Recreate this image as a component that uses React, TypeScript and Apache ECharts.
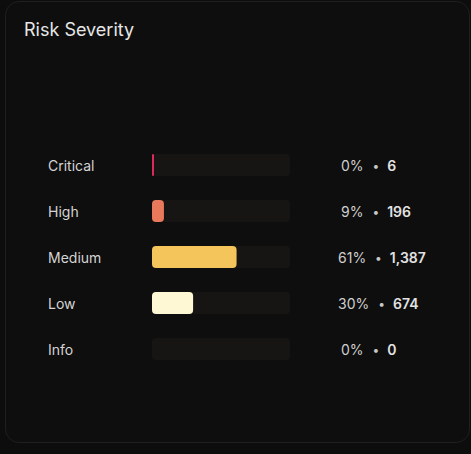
import React, { useEffect, useRef } from "react";
import * as echarts from "echarts";

const categories = ["Critical", "High", "Medium", "Low", "Info"];
const counts = [6, 196, 1387, 674, 0];
const colors = ["#dc2a5c", "#e8795a", "#f3c55b", "#fef8d4"];
const title = "Risk Severity";

export default function App() {
  const ref = useRef<HTMLDivElement>(null);
  useEffect(() => {
    if (!ref.current) return;
    const chart = echarts.init(ref.current, null, { renderer: "svg" });
    const total = counts.reduce((a, b) => a + b, 0);
    const shares = counts.map((c) => c / total);
    const font = "Inter, 'Noto Sans', sans-serif";
    chart.setOption({
      animation: false,
      backgroundColor: "transparent",
      title: {
        text: title,
        left: 19,
        top: 15,
        textStyle: { color: "#e6e6e6", fontSize: 18, fontWeight: "normal", fontFamily: font },
      },
      grid: { left: 152, right: 181, top: 142, bottom: 82 },
      xAxis: { type: "value", min: 0, max: 1, show: false },
      yAxis: {
        type: "category",
        data: categories,
        inverse: true,
        axisLine: { show: false },
        axisTick: { show: false },
        axisLabel: {
          align: "left",
          margin: 104,
          color: "#d4d4d4",
          fontSize: 14,
          fontFamily: font,
        },
      },
      series: [
        {
          type: "bar",
          data: categories.map(() => 1),
          barWidth: 22,
          barGap: "-100%",
          silent: true,
          itemStyle: { color: "#161514", borderRadius: 4 },
          label: {
            show: true,
            position: "right",
            distance: 48,
            fontFamily: font,
            formatter: (p: any) => {
              const i = p.dataIndex;
              const pct = Math.round(shares[i] * 100);
              const pStyle = pct < 10 ? "p1" : "p2";
              return `{${pStyle}|${pct}%}{dot|•}{n|${counts[i].toLocaleString("en-US")}}`;
            },
            rich: {
              p1: { color: "#cfcfcf", fontSize: 14, fontFamily: font, padding: [0, 0, 0, 3] },
              p2: { color: "#cfcfcf", fontSize: 14, fontFamily: font },
              dot: { color: "#c8c8c8", fontSize: 12, fontFamily: font, padding: [0, 8, 0, 9] },
              n: { color: "#e2e2e2", fontSize: 14, fontWeight: 600, fontFamily: font },
            },
          },
        },
        {
          type: "bar",
          data: shares.map((s, i) => ({
            value: counts[i] === 0 ? null : s,
            itemStyle: { color: colors[i % colors.length] },
          })),
          barWidth: 22,
          barMinHeight: 2,
          silent: true,
          itemStyle: { borderRadius: 4 },
        },
      ],
    });
    return () => chart.dispose();
  }, []);

  return (
    <div style={{ position: "fixed", left: 0, top: 0, width: 471, height: 454, background: "#0d0d0d" }}>
      <div
        style={{
          position: "absolute",
          left: 5,
          top: 1,
          width: 463,
          height: 440,
          border: "1px solid #1f1f1f",
          borderRadius: 14,
          background: "#0e0e0e",
        }}
      />
      <div ref={ref} style={{ position: "absolute", left: 0, top: 0, width: 471, height: 454 }} />
    </div>
  );
}
